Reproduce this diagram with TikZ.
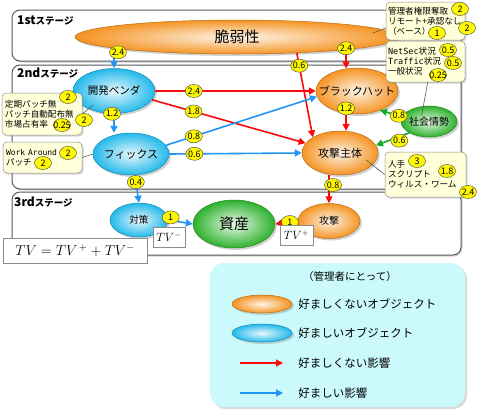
\documentclass[tikz,border=0pt]{standalone}
\usepackage{fontspec}
\setmainfont{Noto Sans CJK JP}
\setmonofont{DejaVu Sans Mono}
\usetikzlibrary{arrows.meta,shapes.geometric,shadows,positioning}

\definecolor{orangeobj}{RGB}{245,148,35}
\definecolor{blueobj}{RGB}{35,185,235}
\definecolor{greenobj}{RGB}{45,178,45}
\definecolor{badfx}{RGB}{250,10,10}
\definecolor{goodfx}{RGB}{35,150,245}
\definecolor{socialfx}{RGB}{20,170,40}
\definecolor{notebg}{RGB}{255,255,218}
\definecolor{legendbg}{RGB}{204,250,252}
\definecolor{badgebg}{RGB}{255,248,0}

\newcommand{\fsz}[2]{\fontsize{#1}{#2}\selectfont}

\begin{document}
\begin{tikzpicture}[
        x=1pt, y=-1pt,
        zerowidth/.style={
            execute at begin node={\hbox to 0pt\bgroup\hss},
            execute at end node={\hss\egroup}
        },
        obj/.style={
            ellipse, inner sep=0pt, zerowidth, draw=#1!75!black, line width=0.5pt,
            inner color=#1!10!white, outer color=#1,
            drop shadow={opacity=0.35, shadow xshift=2pt, shadow yshift=-2pt}
        },
        badge/.style={
            ellipse, inner sep=0pt, zerowidth, minimum width=17pt, minimum height=13pt,
            fill=badgebg, draw=black!70, line width=0.45pt, font=\fsz{9}{9}
        },
        note/.style={
            rectangle, rounded corners=4pt, draw=black!45, fill=notebg, line width=0.5pt,
            align=left, inner xsep=3pt, inner ysep=2pt, font=\fsz{8.6}{10},
            drop shadow={opacity=0.3, shadow xshift=1.5pt, shadow yshift=-1.5pt}
        },
        stagebox/.style={
            draw=black!65, line width=1pt, rounded corners=8pt, fill=white,
            drop shadow={opacity=0.35, shadow xshift=1.5pt, shadow yshift=-1.5pt}
        },
        stagelabel/.style={anchor=west, inner sep=0pt, font=\bfseries},
        tvbox/.style={
            draw=black!45, fill=white, line width=0.6pt, inner sep=1pt,
            drop shadow={opacity=0.25, shadow xshift=1pt, shadow yshift=-1pt}
        },
        badarrow/.style={draw=badfx, line width=1.6pt, -{Triangle[length=7pt,width=7pt]}},
        goodarrow/.style={draw=goodfx, line width=1.6pt, -{Triangle[length=7pt,width=7pt]}},
        socialarrow/.style={draw=socialfx, line width=1.6pt, -{Triangle[length=7pt,width=7pt]}},
        pin/.style={draw=black!65, line width=0.6pt},
        legtext/.style={inner sep=0pt, font=\fsz{11.5}{12}}
    ]
    \useasboundingbox (0,0) rectangle (480,410);

    % stages
    \path[stagebox] (12,10) rectangle (461,61);
    \path[stagebox] (12,65) rectangle (461,189);
    \path[stagebox] (12,192) rectangle (461,255);
    \node[stagelabel] (st1) at (17,20) {\fsz{12}{12}1st\fsz{9.5}{10}ステージ};
    \node[stagelabel] (st2) at (17,73) {\fsz{12}{12}2nd\fsz{9.5}{10}ステージ};
    \node[stagelabel] (st3) at (14,202) {\fsz{12}{12}3rd\fsz{9.5}{10}ステージ};

    % objects
    \node[obj=orangeobj, minimum width=324pt, minimum height=34pt, font=\fsz{15}{15}] (vuln) at (237,37) {脆弱性};
    \node[obj=blueobj, minimum width=82pt, minimum height=45pt, font=\fsz{10.5}{11}] (vendor) at (114,91) {開発ベンダ};
    \node[obj=blueobj, minimum width=76pt, minimum height=42pt, font=\fsz{11}{11}] (fix) at (131,154) {フィックス};
    \node[obj=orangeobj, minimum width=82pt, minimum height=46pt, font=\fsz{11}{11}] (blackhat) at (357,91) {ブラックハット};
    \node[obj=orangeobj, minimum width=76pt, minimum height=44pt, font=\fsz{11}{11}] (attacker) at (340,153) {攻撃主体};
    \node[obj=greenobj, minimum width=56pt, minimum height=31pt, font=\fsz{10}{10}] (social) at (429,121.5) {社会情勢};
    \node[obj=blueobj, minimum width=58pt, minimum height=34pt, font=\fsz{9.5}{10}] (counter) at (139,220) {対策};
    \node[obj=greenobj, minimum width=82pt, minimum height=48pt, font=\fsz{15}{15}] (asset) at (234,224) {資産};
    \node[obj=orangeobj, minimum width=62pt, minimum height=35pt, font=\fsz{10}{10}] (attack) at (329,221) {攻撃};

    % influences
    \draw[goodarrow] (vuln.south -| vendor.north) -- node[badge, pos=0, xshift=4pt, yshift=2pt] (w1) {2.4} (vendor.north);
    \draw[badarrow] (vuln.south -| blackhat.116) -- node[badge, pos=0, yshift=6pt] (w2) {2.4} (blackhat.116);
    \draw[badarrow] (vuln.-15) -- node[badge, pos=0.15] (w3) {0.6} (attacker.150);
    \draw[badarrow] (vendor.east) -- node[badge, pos=0.24] (w4) {2.4} (blackhat.west);
    \draw[badarrow] (vendor.-13) -- node[badge, pos=0.27] (w5) {1.8} (attacker.164);
    \draw[goodarrow] (vendor.south) -- node[badge, pos=0, xshift=-2pt] (w6) {1.2} (vendor.south |- fix.north);
    \draw[goodarrow] (fix.14) -- node[badge, pos=0.185] (w7) {0.8} (blackhat.-172);
    \draw[goodarrow] (fix.east) -- node[badge, pos=0.19] (w8) {0.6} (attacker.west);
    \draw[badarrow] (blackhat.-116) -- node[badge, pos=0, yshift=5pt] (w9) {1.2} (blackhat.-116 |- attacker.north);
    \draw[socialarrow] (social.170) -- node[badge, pos=0.15] (w10) {0.8} (blackhat.-40);
    \draw[socialarrow] (social.-150) -- node[badge, pos=0.3, yshift=-4pt] (w11) {0.6} (attacker.12);
    \draw[goodarrow] (fix.-80) -- node[badge, pos=0.25] (w12) {0.4} (counter.north);
    \draw[badarrow] (attack.north |- attacker.south) -- node[badge, pos=0.35, xshift=4pt] (w13) {0.8} (attack.north);
    \draw[goodarrow] (counter.east) -- node[badge, pos=0.1, yshift=3pt] (w14) {1} (asset.west);
    \draw[badarrow] (attack.west) -- node[badge, pos=0.35] (w15) {1} (asset.east);

    % TV
    \node[tvbox, minimum width=144pt, minimum height=25pt, font=\fsz{14.4}{15}] (tv) at (75,250.5) {$TV = TV^{\,+} + TV^{-}$};
    \node[tvbox, minimum width=32pt, minimum height=20pt, font=\fsz{12}{12}] (tvminus) at (169,237) {$TV^{-}$};
    \node[tvbox, minimum width=33pt, minimum height=20pt, font=\fsz{12}{12}] (tvplus) at (296.5,235) {$TV^{+}$};

    % notes
    \node[note, text width=74pt, minimum height=42pt] (noteA) at (42,114) {定期パッチ無\\パッチ自動配布無\\市場占有率};
    \node[note, text width=73pt, minimum height=31pt] (noteB) at (42.5,157.5) {{\ttfamily\fsz{8}{10}Work Around}\\パッチ};
    \node[note, text width=75pt, inner xsep=2pt, minimum height=38pt] (noteC) at (425.5,21) {管理者権限奪取\\リモート+承認なし\\（ベース）};
    \node[note, text width=75pt, inner xsep=2pt, minimum height=41pt] (noteD) at (425.5,61.5) {{\ttfamily\fsz{8.5}{10}NetSec}状況\\{\ttfamily\fsz{8.5}{10}Traffic}状況\\一般状況};
    \node[note, text width=75pt, minimum height=45pt] (noteE) at (425.5,174.5) {人手\\スクリプト\\ウィルス・ワーム};

    \coordinate (vulnpin) at (373,33);
    \draw[pin] (noteC.-170) -- (vulnpin);
    \draw[pin, shorten >=-10pt] (noteD.-84) -- (social.110);
    \draw[pin, shorten >=-6pt] (noteA.east) -- (vendor.-145);
    \draw[pin] (noteB.east) -- (fix.west);
    \draw[pin, shorten >=-8pt] (noteE.west) -- (attacker.-20);

    \node[badge] (a1) at (68,97) {2};
    \node[badge] (a2) at (84,120) {2};
    \node[badge] (a3) at (62,125) {0.25};
    \node[badge] (b1) at (68,153) {2};
    \node[badge] (b2) at (43,163) {2};
    \node[badge] (c1) at (460,9) {2};
    \node[badge] (c2) at (467,28) {2};
    \node[badge] (c3) at (437,33) {1};
    \node[badge] (d1) at (448,50) {0.5};
    \node[badge] (d2) at (453,63) {0.5};
    \node[badge] (d3) at (438,75) {0.25};
    \node[badge] (e1) at (417,161) {3};
    \node[badge] (e2) at (447,171) {1.8};
    \node[badge] (e3) at (468,192) {2.4};

    % legend
    \path[fill=legendbg, rounded corners=14pt, drop shadow={opacity=0.3, shadow xshift=2pt, shadow yshift=-2pt}] (210,263) rectangle (465,407);
    \node[font=\fsz{10.5}{11}] (legtitle) at (350,277) {（管理者にとって）};
    \node[obj=orangeobj, minimum width=60pt, minimum height=18pt] (legbad) at (262,304) {};
    \node[legtext, right=6pt of legbad] (legbadtxt) {好ましくないオブジェクト};
    \node[obj=blueobj, minimum width=60pt, minimum height=18pt] (leggood) at (262,333) {};
    \node[legtext, right=6pt of leggood] (leggoodtxt) {好ましいオブジェクト};
    \coordinate (legredA) at (240,363);
    \coordinate (legredB) at (283,363);
    \draw[badarrow] (legredA) -- (legredB);
    \node[legtext, anchor=west] (legredtxt) at (legbadtxt.west |- legredB) {好ましくない影響};
    \coordinate (legblueA) at (240,393);
    \coordinate (legblueB) at (283,393);
    \draw[goodarrow] (legblueA) -- (legblueB);
    \node[legtext, anchor=west] (legbluetxt) at (legbadtxt.west |- legblueB) {好ましい影響};
\end{tikzpicture}
\end{document}
